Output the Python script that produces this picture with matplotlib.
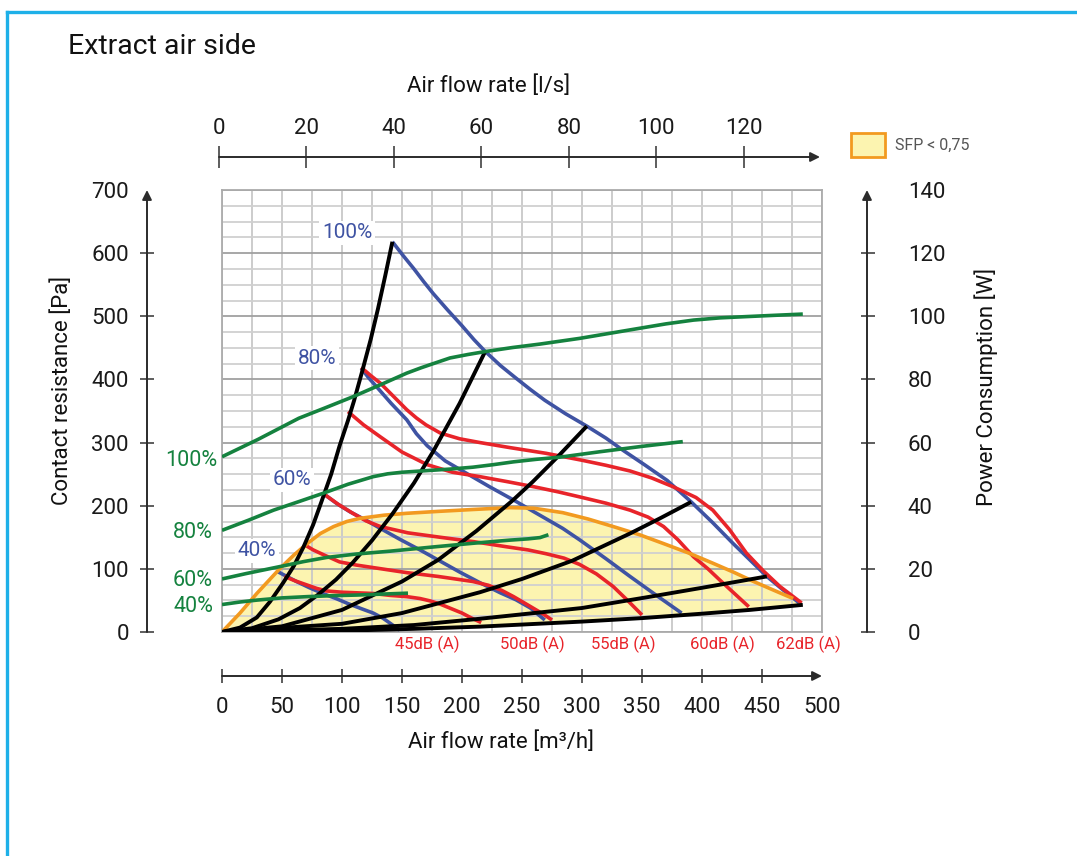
import numpy as np
import matplotlib
matplotlib.use("Agg")
import matplotlib.pyplot as plt
from matplotlib.patches import Rectangle
from matplotlib.lines import Line2D

# ---------------- data (x: air flow m3/h, y: pressure Pa / power W) ----------------
# system curves (black)
sys1_q = [0, 15, 29, 40, 51, 60, 68, 76, 83, 91, 98, 105, 110, 117, 124, 130, 136, 142]
sys1_p = [0, 7, 23, 48, 78, 105, 135, 170, 207, 250, 295, 335, 366, 414, 464, 512, 564, 618]
sys2_q = [0, 25, 47, 65, 80, 95, 109, 125, 142, 160, 176, 198, 219]
sys2_p = [0, 6, 20, 38, 59, 83, 110, 145, 187, 236, 286, 362, 443]
sys3_q = [0, 50, 100, 150, 180, 212, 242, 259, 280, 304]
sys3_p = [0, 9, 35, 80, 114, 160, 208, 238, 278, 326]
sys4_q = [0, 100, 150, 215, 250, 292, 340, 365, 391]
sys4_p = [0, 13, 30, 63, 84, 113, 156, 180, 206]
sys5_q = [0, 100, 160, 215, 300, 354, 400, 454]
sys5_p = [0, 5, 11, 21, 38, 55, 70, 88]
sys6_q = [0, 100, 160, 215, 300, 350, 400, 440, 484]
sys6_p = [0, 2, 5, 8.5, 16.5, 22, 29, 35, 43]

# fan curves (blue)
fan100_q = [142, 151, 160, 168, 176, 188, 200, 210, 219, 232, 245, 257, 269, 286, 304, 320, 334, 352, 371, 391, 409, 426, 440, 454, 468, 481]
fan100_p = [618, 596, 575, 555, 536, 510, 485, 463, 445, 422, 402, 384, 367, 346, 326, 307, 288, 265, 240, 206, 173, 140, 114, 88, 66, 46]
fan80_q = [116, 122, 129, 141, 154, 162, 171, 186, 204, 223, 243, 263, 284, 298, 320, 340, 362, 383]
fan80_p = [418, 403, 388, 362, 336, 314, 295, 271, 251, 230, 209, 187, 164, 146, 116, 88, 58, 30]
fan60_q = [86, 96, 107, 120, 132, 148, 165, 182, 198, 215, 232, 245, 257, 269]
fan60_p = [217, 203, 190, 177, 164, 147, 130, 112, 95, 78, 62, 51, 38, 19]
fan40_q = [46, 54, 62, 73, 84, 95, 105, 116, 126, 134, 140, 148]
fan40_p = [96, 88, 80, 70, 61, 53, 45, 37, 30, 22, 14, 3]
fan_labels = ["100%", "80%", "60%", "40%"]

# noise curves (red)
n62_q = [116, 124, 132, 143, 154, 162, 170, 182, 198, 215, 240, 270, 300, 320, 340, 358, 376, 395, 409, 423, 437, 451, 465, 483]
n62_p = [419, 406, 394, 373, 352, 339, 328, 315, 306, 300, 292, 283, 272, 264, 255, 244, 230, 213, 193, 162, 125, 97, 72, 46]
n60_q = [105, 118, 132, 150, 171, 192, 215, 238, 260, 280, 298, 320, 340, 355, 368, 380, 393, 405, 415, 427, 439]
n60_p = [349, 328, 309, 285, 265, 253, 246, 238, 230, 222, 214, 204, 193, 182, 167, 146, 119, 100, 82, 61, 40]
n55_q = [86, 97, 109, 120, 132, 155, 182, 210, 237, 255, 270, 285, 298, 312, 326, 338, 350]
n55_p = [217, 202, 188, 176, 167, 157, 150, 143, 135, 130, 124, 117, 107, 92, 72, 50, 27]
n50_q = [68, 76, 85, 98, 112, 126, 140, 154, 180, 209, 222, 233, 243, 252, 260, 268, 275]
n50_p = [139, 130, 122, 111, 106, 102, 98, 94, 88, 80, 74, 66, 56, 46, 37, 28, 19]
n45_q = [52, 61, 70, 79, 87, 100, 113, 126, 140, 154, 165, 174, 182, 191, 200, 208, 216]
n45_p = [88, 81, 75, 69, 65, 63, 62, 61, 58, 56, 53, 49, 44, 37, 30, 22, 15]
noise_labels = ["45dB (A)", "50dB (A)", "55dB (A)", "60dB (A)", "62dB (A)"]

# power consumption (green, W)
pw100_q = [0, 30, 64, 86, 109, 132, 154, 166, 176, 190, 205, 219, 242, 265, 298, 323, 348, 370, 393, 415, 437, 460, 484]
pw100_w = [55.5, 61, 67.7, 71, 74.5, 78.3, 82, 83.7, 85, 86.8, 87.9, 88.8, 90.1, 91.2, 93, 94.6, 96.2, 97.6, 98.8, 99.5, 99.9, 100.3, 100.7]
pw80_q = [0, 22, 43, 64, 84, 105, 126, 138, 150, 170, 190, 209, 226, 243, 262, 282, 315, 350, 384]
pw80_w = [32.2, 35.4, 38.6, 41.3, 43.9, 46.8, 49.2, 50.1, 50.6, 51.1, 51.6, 52.2, 53.0, 53.9, 54.7, 55.4, 57.1, 58.8, 60.3]
pw60_q = [0, 20, 48, 68, 87, 112, 140, 175, 209, 240, 255, 265, 272]
pw60_w = [16.8, 18.5, 20.7, 22.3, 23.6, 24.7, 25.6, 26.9, 28.1, 29.1, 29.5, 29.9, 30.8]
pw40_q = [0, 15, 29, 50, 71, 92, 112, 133, 155]
pw40_w = [8.7, 9.5, 10.1, 10.8, 11.2, 11.5, 11.7, 12.0, 12.3]
pw_labels = ["100%", "80%", "60%", "40%"]

# SFP < 0,75 region boundary (orange)
sfp_q = [0, 15, 29, 48, 60, 71, 82, 93, 104, 115, 135, 154, 180, 209, 240, 260, 284, 305, 326, 348, 368, 389, 409, 426, 443, 460, 476]
sfp_p = [0, 30, 61, 100, 122, 140, 156, 167, 175, 180, 185, 188, 191, 194, 197, 196, 189, 179, 167, 154, 140, 125, 109, 95, 80, 66, 53]

# axes ticks
ticks_m3h = [0, 50, 100, 150, 200, 250, 300, 350, 400, 450, 500]
ticks_ls = [0, 20, 40, 60, 80, 100, 120]
ticks_pa = [0, 100, 200, 300, 400, 500, 600, 700]
ticks_w = [0, 20, 40, 60, 80, 100, 120, 140]

# ---------------- styling ----------------
BLUE = "#3f53a3"
RED = "#e8242a"
GREEN = "#15823f"
ORANGE = "#f29a20"
YELLOW = "#fcf4b0"
AXC = "#505050"
FRAME = "#1eb0e8"

plt.rcParams['font.family'] = ['Roboto', 'DejaVu Sans']

W, H = 1077, 856
fig = plt.figure(figsize=(W / 100, H / 100), dpi=100)


def fx(px):
    return px / W


def fy(py):
    return 1 - py / H


# main grid axes
ax = fig.add_axes([fx(222), fy(632), 600 / W, 442 / H])
ax.set_xlim(0, 500)
ax.set_ylim(0, 700)
ax.set_xticks(np.arange(0, 501, 25))
ax.set_yticks(np.arange(0, 701, 100))
ax.set_yticks(np.arange(0, 701, 25), minor=True)
ax.tick_params(which='both', length=0, labelbottom=False, labelleft=False)
ax.set_axisbelow(True)
ax.grid(axis='x', which='major', color='#c8c8c8', lw=1.3)
ax.grid(axis='y', which='minor', color='#d0d0d0', lw=1.3)
ax.grid(axis='y', which='major', color='#a0a0a0', lw=1.3)
for s in ax.spines.values():
    s.set_color('#ababab')
    s.set_linewidth(1.3)

# SFP fill + boundary
poly_q = list(sfp_q) + list(sys6_q[::-1])
poly_p = list(sfp_p) + list(sys6_p[::-1])
ax.fill(poly_q, poly_p, color=YELLOW, lw=0, zorder=0.3)

LW = 2.6
kw = dict(solid_capstyle='butt', solid_joinstyle='round')
for q, p in [(n45_q, n45_p), (n50_q, n50_p), (n55_q, n55_p), (n60_q, n60_p), (n62_q, n62_p)]:
    ax.plot(q, p, color=RED, lw=LW, zorder=3, **kw)
for q, p in [(fan100_q, fan100_p), (fan80_q, fan80_p), (fan60_q, fan60_p), (fan40_q, fan40_p)]:
    ax.plot(q, p, color=BLUE, lw=LW, zorder=2.8, **kw)
ax.plot(sfp_q, sfp_p, color=ORANGE, lw=LW, zorder=3.2, **kw)
for q, p in [(sys1_q, sys1_p), (sys2_q, sys2_p), (sys3_q, sys3_p), (sys4_q, sys4_p),
             (sys5_q, sys5_p), (sys6_q, sys6_p)]:
    ax.plot(q, p, color='black', lw=2.8, zorder=3.4, **kw)

# power curves on the W scale
ax2 = fig.add_axes(ax.get_position(), frameon=False)
ax2.set_xlim(0, 500)
ax2.set_ylim(0, 140)
ax2.axis('off')
for q, w in [(pw100_q, pw100_w), (pw80_q, pw80_w), (pw60_q, pw60_w), (pw40_q, pw40_w)]:
    ax2.plot(q, w, color=GREEN, lw=LW, zorder=3.3, **kw)

# ---------------- decorative axes ----------------
TFS = 16


def arrow(axx, xy, xytext):
    axx.annotate('', xy=xy, xytext=xytext, xycoords='axes fraction', textcoords='axes fraction',
                 arrowprops=dict(arrowstyle='-|>', color='#2b2b2b', lw=1.4, mutation_scale=14,
                                 shrinkA=0, shrinkB=0), annotation_clip=False)


# left axis (Pa)
axl = fig.add_axes([fx(147), fy(632), 0.0005, 442 / H])
axl.set_ylim(0, 700)
axl.set_xticks([])
axl.set_yticks(ticks_pa)
axl.set_yticklabels([str(t) for t in ticks_pa], fontsize=TFS, color='#1a1a1a')
axl.tick_params(axis='y', direction='inout', length=10, width=1.3, color=AXC, pad=8)
axl.yaxis.get_major_ticks()[-1].tick1line.set_visible(False)
for s in axl.spines.values():
    s.set_visible(False)
axl.patch.set_visible(False)
arrow(axl, (0, 1.0), (0, 0))

# right axis (W)
axr = fig.add_axes([fx(867), fy(632), 0.0005, 442 / H])
axr.set_ylim(0, 140)
axr.set_xticks([])
axr.yaxis.tick_right()
axr.set_yticks(ticks_w)
axr.set_yticklabels([str(t) for t in ticks_w], fontsize=TFS, color='#1a1a1a')
axr.tick_params(axis='y', direction='inout', length=10, width=1.3, color=AXC, pad=24)
axr.yaxis.get_major_ticks()[-1].tick2line.set_visible(False)
for s in axr.spines.values():
    s.set_visible(False)
axr.patch.set_visible(False)
arrow(axr, (0, 1.0), (0, 0))

# bottom axis (m3/h)
axb = fig.add_axes([fx(222), fy(676), 600 / W, 0.0005])
axb.set_xlim(0, 500)
axb.set_yticks([])
axb.set_xticks(ticks_m3h)
axb.set_xticklabels([str(t) for t in ticks_m3h], fontsize=TFS, color='#1a1a1a')
axb.tick_params(axis='x', direction='inout', length=10, width=1.3, color=AXC, pad=10)
axb.xaxis.get_major_ticks()[-1].tick1line.set_visible(False)
for s in axb.spines.values():
    s.set_visible(False)
axb.patch.set_visible(False)
arrow(axb, (1.0, 0), (0, 0))

# top axis (l/s)
axt = fig.add_axes([fx(219), fy(157), 601 / W, 0.0005])
axt.set_xlim(0, 137.4)
axt.set_yticks([])
axt.xaxis.tick_top()
axt.set_xticks(ticks_ls)
axt.set_xticklabels([str(t) for t in ticks_ls], fontsize=TFS, color='#1a1a1a')
axt.tick_params(axis='x', direction='inout', length=16, width=1.3, color=AXC, pad=5)
for s in axt.spines.values():
    s.set_visible(False)
axt.patch.set_visible(False)
arrow(axt, (1.0, 0), (0, 0))

# ---------------- texts ----------------
fig.text(fx(68), fy(47), "Extract air side", fontsize=20.5, ha='left', va='center', color='#111111')
fig.text(fx(489), fy(86), "Air flow rate [l/s]", fontsize=TFS, ha='center', va='center', color='#111111')
fig.text(fx(501), fy(742), "Air flow rate [m³/h]", fontsize=TFS, ha='center', va='center', color='#111111')
fig.text(fx(62), fy(390), "Contact resistance [Pa]", fontsize=TFS, rotation=90, ha='center', va='center',
         color='#111111')
fig.text(fx(986), fy(387), "Power Consumption [W]", fontsize=TFS, rotation=90, ha='center', va='center',
         color='#111111')

# fan % labels (blue, white boxes)
for lab, (px, py) in zip(fan_labels, [(347, 233), (317, 358), (292, 480), (257, 551)]):
    fig.text(fx(px), fy(py), lab, fontsize=15, color=BLUE, ha='center', va='center', zorder=10,
             bbox=dict(facecolor='white', edgecolor='none', pad=2))

# power % labels (green)
for lab, (px, py) in zip(pw_labels, [(217, 460), (213, 532), (213, 580), (213, 606)]):
    fig.text(fx(px), fy(py), lab, fontsize=15.5, color=GREEN, ha='right', va='center')

# noise labels (red)
for lab, px in zip(noise_labels, [427, 532, 623, 722, 808]):
    fig.text(fx(px), fy(644), lab, fontsize=12, color=RED, ha='center', va='center')

# legend
fig.patches.append(Rectangle((fx(851), fy(157)), 34 / W, 24 / H, transform=fig.transFigure,
                             facecolor=YELLOW, edgecolor=ORANGE, lw=2))
fig.text(fx(895), fy(145), "SFP < 0,75", fontsize=11.5, color='#555555', ha='left', va='center')

# frame
fig.add_artist(Line2D([fx(7), 1.0], [fy(12), fy(12)], color=FRAME, lw=2.4, transform=fig.transFigure))
fig.add_artist(Line2D([fx(7), fx(7)], [fy(12), 0.0], color=FRAME, lw=2.4, transform=fig.transFigure))

fig.savefig("out.png", dpi=100)
